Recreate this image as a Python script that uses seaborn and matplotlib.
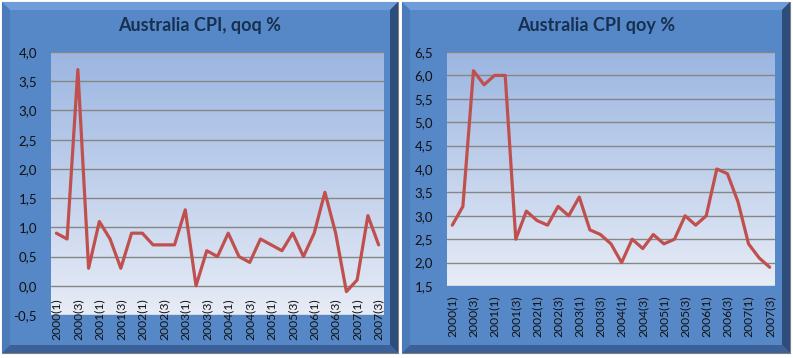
import numpy as np
import pandas as pd
import seaborn as sns
import matplotlib.pyplot as plt
from matplotlib.patches import Polygon
from matplotlib.colors import LinearSegmentedColormap
from matplotlib.ticker import FuncFormatter

# ---- data ----
quarters = ['2000(1)', '2000(2)', '2000(3)', '2000(4)', '2001(1)', '2001(2)', '2001(3)', '2001(4)',
            '2002(1)', '2002(2)', '2002(3)', '2002(4)', '2003(1)', '2003(2)', '2003(3)', '2003(4)',
            '2004(1)', '2004(2)', '2004(3)', '2004(4)', '2005(1)', '2005(2)', '2005(3)', '2005(4)',
            '2006(1)', '2006(2)', '2006(3)', '2006(4)', '2007(1)', '2007(2)', '2007(3)']
cpi_qoq = [0.9, 0.8, 3.7, 0.3, 1.1, 0.8, 0.3, 0.9, 0.9, 0.7, 0.7, 0.7, 1.3, 0.0, 0.6, 0.5,
           0.9, 0.5, 0.4, 0.8, 0.7, 0.6, 0.9, 0.5, 0.9, 1.6, 0.9, -0.1, 0.1, 1.2, 0.7]
cpi_qoy = [2.8, 3.2, 6.1, 5.8, 6.0, 6.0, 2.5, 3.1, 2.9, 2.8, 3.2, 3.0, 3.4, 2.7, 2.6, 2.4,
           2.0, 2.5, 2.3, 2.6, 2.4, 2.5, 3.0, 2.8, 3.0, 4.0, 3.9, 3.3, 2.4, 2.1, 1.9]

W, H = 793, 358
LINE_COL = '#C0504D'
TITLE_COL = '#17304F'

sns.set_style('white')
plt.rcParams['font.family'] = ['Lato', 'DejaVu Sans']

fig = plt.figure(figsize=(W / 100, H / 100), dpi=100)
bg = fig.add_axes([0, 0, 1, 1])
bg.set_xlim(0, W)
bg.set_ylim(H, 0)
bg.axis('off')


def bevel_box(x0, x1, y0, y1, b=8):
    # flat face + four bevel strips, Excel "chart area" look
    bg.add_patch(Polygon([(x0, y0), (x1, y0), (x1, y1), (x0, y1)], closed=True,
                         fc='#5688C8', ec='#7f7f7f', lw=0.8))
    bg.add_patch(Polygon([(x0, y0), (x1, y0), (x1 - b, y0 + b), (x0 + b, y0 + b)],
                         closed=True, fc='#6E9DDA', ec='none'))
    bg.add_patch(Polygon([(x0, y0), (x0 + b, y0 + b), (x0 + b, y1 - b), (x0, y1)],
                         closed=True, fc='#4C7BBA', ec='none'))
    bg.add_patch(Polygon([(x1, y0), (x1, y1), (x1 - b, y1 - b), (x1 - b, y0 + b)],
                         closed=True, fc='#2F4D7A', ec='none'))
    bg.add_patch(Polygon([(x0, y1), (x1, y1), (x1 - b, y1 - b), (x0 + b, y1 - b)],
                         closed=True, fc='#3B6198', ec='none'))


def draw_panel(box, plot, title, values, ylim, yticks, cross, label_pad):
    x0, x1, y0, y1 = box
    bevel_box(x0, x1, y0, y1)
    bg.text((x0 + x1) / 2, 25, title, ha='center', va='center', fontsize=13,
            fontweight='bold', color=TITLE_COL)

    px0, px1, py0, py1 = plot
    ax = fig.add_axes([px0 / W, 1 - py1 / H, (px1 - px0) / W, (py1 - py0) / H])
    ax.patch.set_alpha(0)

    df = pd.DataFrame({'pos': np.arange(len(quarters)), 'value': values})
    sns.lineplot(data=df, x='pos', y='value', ax=ax, color=LINE_COL, linewidth=2.3,
                 solid_joinstyle='round', zorder=3)

    xlim = (-0.5, len(quarters) - 0.5)
    grad = np.linspace(0, 1, 256).reshape(-1, 1)
    cmap = LinearSegmentedColormap.from_list('pa', ['#9CB6E1', '#E7ECF6'])
    ax.imshow(grad, cmap=cmap, extent=(xlim[0], xlim[1], ylim[0], ylim[1]),
              aspect='auto', zorder=0, interpolation='bilinear')
    ax.set_xlim(xlim)
    ax.set_ylim(ylim)

    # category axis crosses the value axis at `cross` (Excel style)
    for s in ax.spines.values():
        s.set_visible(False)
    ax.spines['bottom'].set_position(('data', cross))

    ax.set_yticks(yticks)
    ax.yaxis.set_major_formatter(FuncFormatter(lambda v, _: f'{v:.1f}'.replace('.', ',')))
    ax.set_axisbelow(True)
    ax.grid(axis='y', color='#868686', linewidth=1.0)
    ax.grid(axis='x', visible=False)

    ax.set_xticks(df['pos'][::2])
    ax.set_xticklabels(quarters[::2])
    ax.tick_params(axis='x', length=0, pad=label_pad, labelsize=8.7, colors='#111111',
                   labelrotation=90)
    ax.tick_params(axis='y', length=0, pad=10, labelsize=9.5, colors='#111111')
    ax.set_xlabel('')
    ax.set_ylabel('')
    return ax


draw_panel((2, 398, 2, 353), (51, 384, 52, 315), 'Australia CPI, qoq %', cpi_qoq,
           (-0.5, 4.0), np.arange(-0.5, 4.01, 0.5), 0.0, 9.0)
draw_panel((402, 790, 2, 353), (447, 775, 52, 286), 'Australia CPI qoy %', cpi_qoy,
           (1.5, 6.5), np.arange(1.5, 6.51, 0.5), 1.5, 6.5)

plt.savefig('out.png', dpi=100)
